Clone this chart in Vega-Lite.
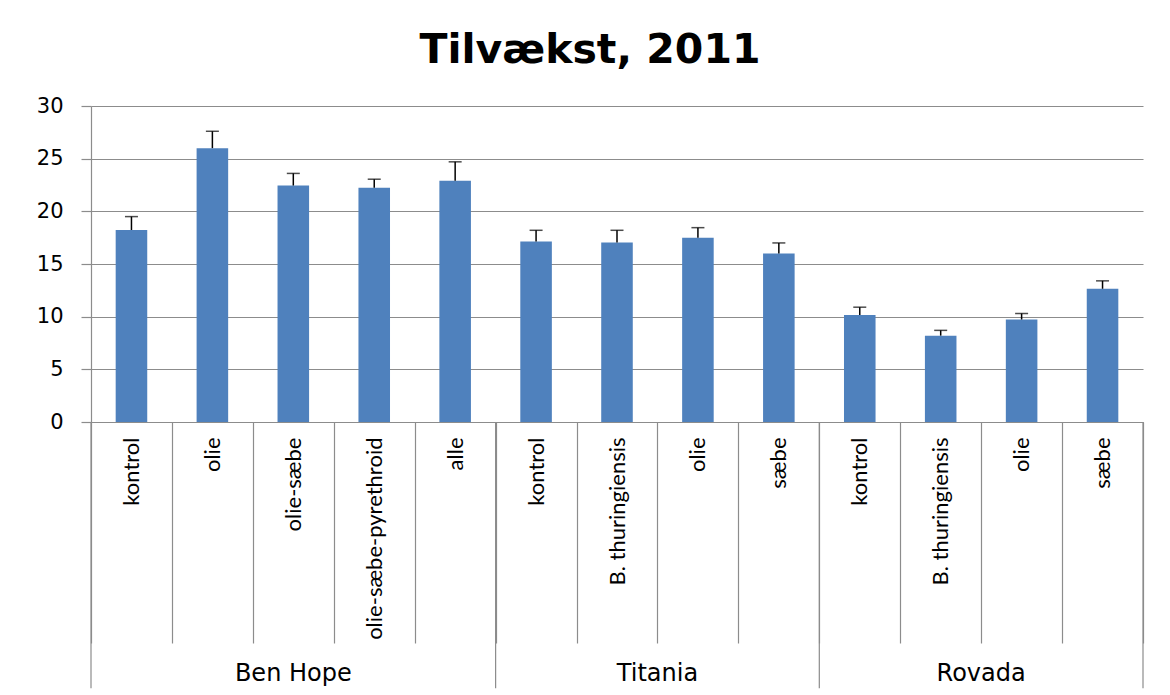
{
  "$schema": "https://vega.github.io/schema/vega-lite/v6.json",
  "autosize": "none",
  "width": 1052,
  "height": 316,
  "padding": {"left": 91, "top": 106, "right": 27, "bottom": 273},
  "background": "white",
  "title": {
    "text": "Tilvækst, 2011",
    "font": "DejaVu Sans",
    "fontSize": 41,
    "fontWeight": "bold",
    "color": "#000000",
    "anchor": "middle",
    "frame": "bounds",
    "offset": 23
  },
  "config": {
    "view": {"stroke": null},
    "axis": {"domainColor": "#8c8c8c", "tickColor": "#8c8c8c", "gridColor": "#8c8c8c", "domainWidth": 1.2, "tickWidth": 1.2, "gridWidth": 1.2}
  },
  "data": {
    "values": [
      {"key": "Ben Hope|kontrol", "group": "Ben Hope", "treatment": "kontrol", "mean": 18.23, "upper": 19.5},
      {"key": "Ben Hope|olie", "group": "Ben Hope", "treatment": "olie", "mean": 26.0, "upper": 27.6},
      {"key": "Ben Hope|olie-sæbe", "group": "Ben Hope", "treatment": "olie-sæbe", "mean": 22.45, "upper": 23.6},
      {"key": "Ben Hope|olie-sæbe-pyrethroid", "group": "Ben Hope", "treatment": "olie-sæbe-pyrethroid", "mean": 22.25, "upper": 23.05},
      {"key": "Ben Hope|alle", "group": "Ben Hope", "treatment": "alle", "mean": 22.9, "upper": 24.7},
      {"key": "Titania|kontrol", "group": "Titania", "treatment": "kontrol", "mean": 17.13, "upper": 18.2},
      {"key": "Titania|B. thuringiensis", "group": "Titania", "treatment": "B. thuringiensis", "mean": 17.03, "upper": 18.2},
      {"key": "Titania|olie", "group": "Titania", "treatment": "olie", "mean": 17.5, "upper": 18.45},
      {"key": "Titania|sæbe", "group": "Titania", "treatment": "sæbe", "mean": 16.0, "upper": 17.0},
      {"key": "Rovada|kontrol", "group": "Rovada", "treatment": "kontrol", "mean": 10.15, "upper": 10.9},
      {"key": "Rovada|B. thuringiensis", "group": "Rovada", "treatment": "B. thuringiensis", "mean": 8.2, "upper": 8.7},
      {"key": "Rovada|olie", "group": "Rovada", "treatment": "olie", "mean": 9.73, "upper": 10.3},
      {"key": "Rovada|sæbe", "group": "Rovada", "treatment": "sæbe", "mean": 12.65, "upper": 13.4}
    ]
  },
  "layer": [
    {
      "mark": {"type": "bar", "color": "#4F81BD", "width": {"band": 0.39}},
      "encoding": {
        "x": {
          "field": "key", "type": "nominal", "sort": null,
          "scale": {"paddingInner": 0, "paddingOuter": 0},
          "axis": {
            "title": null,
            "labelExpr": "split(datum.value, '|')[1]",
            "labelAngle": -90,
            "labelAlign": "right",
            "labelBaseline": "middle",
            "labelFont": "Lato",
            "labelFontSize": 22,
            "labelColor": "#000000",
            "labelLimit": 400,
            "labelOverlap": false,
            "tickBand": "extent",
            "tickSize": 221,
            "labelPadding": -206,
            "grid": false
          }
        },
        "y": {
          "field": "mean", "type": "quantitative",
          "scale": {"domain": [0, 30], "nice": false, "zero": true},
          "axis": {
            "title": null,
            "values": [0, 5, 10, 15, 20, 25, 30],
            "grid": true,
            "tickSize": 10,
            "labelPadding": 18,
            "labelFont": "DejaVu Sans",
            "labelFontSize": 21,
            "labelColor": "#000000"
          }
        }
      }
    },
    {
      "mark": {"type": "rule", "color": "#000000", "strokeWidth": 1.5},
      "encoding": {
        "x": {"field": "key", "type": "nominal", "sort": null},
        "y": {"field": "mean", "type": "quantitative"},
        "y2": {"field": "upper"}
      }
    },
    {
      "mark": {"type": "tick", "color": "#000000", "size": 13, "thickness": 1.5, "orient": "horizontal"},
      "encoding": {
        "x": {"field": "key", "type": "nominal", "sort": null},
        "y": {"field": "upper", "type": "quantitative"}
      }
    },
    {
      "transform": [{"filter": "datum.treatment == 'kontrol'"}],
      "mark": {"type": "rule", "color": "#8c8c8c", "strokeWidth": 1.2},
      "encoding": {
        "x": {"field": "key", "type": "nominal", "sort": null, "bandPosition": 0},
        "y": {"datum": 0, "type": "quantitative"},
        "y2": {"datum": -25.28}
      }
    },
    {
      "transform": [{"filter": "datum.key == 'Rovada|sæbe'"}],
      "mark": {"type": "rule", "color": "#8c8c8c", "strokeWidth": 1.2},
      "encoding": {
        "x": {"field": "key", "type": "nominal", "sort": null, "bandPosition": 1},
        "y": {"datum": 0, "type": "quantitative"},
        "y2": {"datum": -25.28}
      }
    },
    {
      "transform": [{"filter": "datum.key == 'Ben Hope|olie-sæbe'"}],
      "mark": {"type": "text", "font": "DejaVu Sans", "fontSize": 24, "color": "#000000", "baseline": "alphabetic", "align": "center"},
      "encoding": {
        "x": {"field": "key", "type": "nominal", "sort": null, "bandPosition": 0.5},
        "y": {"datum": -24.57, "type": "quantitative"},
        "text": {"field": "group"}
      }
    },
    {
      "transform": [{"filter": "datum.key == 'Titania|olie' || datum.key == 'Rovada|olie'"}],
      "mark": {"type": "text", "font": "DejaVu Sans", "fontSize": 24, "color": "#000000", "baseline": "alphabetic", "align": "center"},
      "encoding": {
        "x": {"field": "key", "type": "nominal", "sort": null, "bandPosition": 0},
        "y": {"datum": -24.57, "type": "quantitative"},
        "text": {"field": "group"}
      }
    }
  ]
}
